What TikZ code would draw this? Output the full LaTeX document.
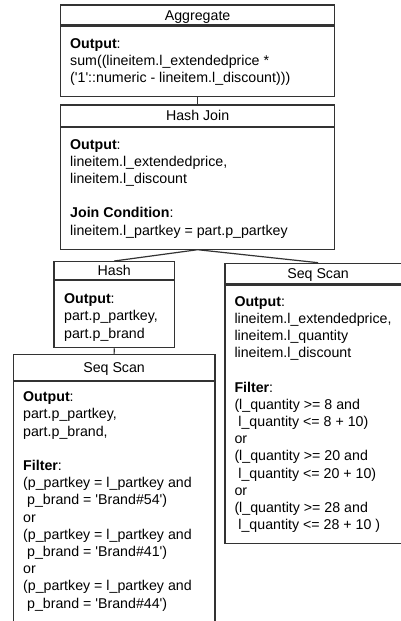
\documentclass[tikz,border=0pt]{standalone}
\usepackage{fontspec}
\setmainfont{Liberation Sans}
\newcommand\planfont{\fontsize{14.2}{17.2}\selectfont}
\definecolor{linec}{HTML}{333333}
\begin{document}
\begin{tikzpicture}[x=1pt,y=-1pt,
  frame/.style={draw=linec, line width=1.2pt, rectangle, inner sep=0pt,
    anchor=north west, font=\planfont, text height=10.2pt, text depth=0pt},
  body/.style={anchor=base west, inner sep=0pt, font=\planfont, align=left},
  link/.style={draw=linec, line width=1.2pt}]
\newcommand\rows[1]{\begin{tabular}[t]{@{}l@{}}#1\end{tabular}}
% page area
\clip (0,0) rectangle (401,621);
\fill[white] (0,0) rectangle (401,621);

% Aggregate
\node[frame, minimum width=274pt, minimum height=20pt] (aggh) at (60,4.3) {Aggregate};
\node[frame, minimum width=274pt, minimum height=70pt] (agg) at (aggh.south west) {};
\node[body] (aggt) at (70,48.3) {\rows{\textbf{Output}:\\
sum((lineitem.l\_extendedprice *\\
(\textquotesingle 1\textquotesingle::numeric - lineitem.l\_discount)))}};

% Hash Join
\node[frame, minimum width=274pt, minimum height=21.4pt] (hjh) at (60,104.3) {Hash Join};
\node[frame, minimum width=274pt, minimum height=121.6pt] (hj) at (hjh.south west) {};
\node[body] (hjt) at (70,149) {\rows{\textbf{Output}:\\
lineitem.l\_extendedprice,\\
lineitem.l\_discount\\
\\
\textbf{Join Condition}:\\
lineitem.l\_partkey = part.p\_partkey}};

% Hash
\node[frame, minimum width=120.7pt, minimum height=18pt] (hashh) at (53.3,261) {Hash};
\node[frame, minimum width=120.7pt, minimum height=67pt] (hash) at (hashh.south west) {};
\node[body] (hasht) at (64,303.7) {\rows{\textbf{Output}:\\
part.p\_partkey,\\
part.p\_brand}};

% Seq Scan on lineitem
\node[frame, minimum width=186.4pt, minimum height=20.6pt] (scanrh) at (224.3,262.7) {Seq Scan};
\node[frame, minimum width=186.4pt, minimum height=258.4pt] (scanr) at (scanrh.south west) {};
\node[body] (scanrt) at (234.3,306) {\rows{\textbf{Output}:\\
lineitem.l\_extendedprice,\\
lineitem.l\_quantity\\
lineitem.l\_discount\\
\\
\textbf{Filter}:\\
(l\_quantity >= 8 and\\
\ l\_quantity <= 8 + 10)\\
or\\
(l\_quantity >= 20 and\\
\ l\_quantity <= 20 + 10)\\
or\\
(l\_quantity >= 28 and\\
\ l\_quantity <= 28 + 10 )}};

% Seq Scan on part
\node[frame, minimum width=201.6pt, minimum height=26pt] (scanlh) at (12.7,354) {Seq Scan};
\node[frame, minimum width=201.6pt, minimum height=270pt] (scanl) at (scanlh.south west) {};
\node[body] (scanlt) at (23,401.7) {\rows{\textbf{Output}:\\
part.p\_partkey,\\
part.p\_brand,\\
\\
\textbf{Filter}:\\
(p\_partkey = l\_partkey and\\
\ p\_brand = \textquotesingle Brand\#54\textquotesingle)\\
or\\
(p\_partkey = l\_partkey and\\
\ p\_brand = \textquotesingle Brand\#41\textquotesingle)\\
or\\
(p\_partkey = l\_partkey and\\
\ p\_brand = \textquotesingle Brand\#44\textquotesingle)}};

% plan edges
\draw[link] (agg.south) -- (hjh.north);
\draw[link] (hj.south) -- (hashh.north);
\draw[link] (hj.south) -- (scanrh.north);
\draw[link] (hash.south) -- (scanlh.north);
\end{tikzpicture}
\end{document}
